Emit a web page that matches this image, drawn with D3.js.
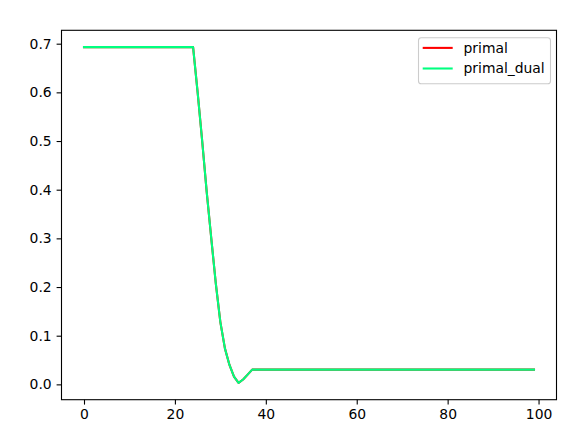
<!DOCTYPE html>
<html>
<head>
<meta charset="utf-8">
<script src="https://cdn.jsdelivr.net/npm/d3@7"></script>
<style>
  body { margin: 0; background: #fff; }
  svg { display: block; }
  text { font-family: "DejaVu Sans", sans-serif; font-size: 13.9px; fill: #000; }
</style>
</head>
<body>
<div id="chart"></div>
<script>
// x = 0..99 iterations
var steps = d3.range(0, 100);

var primal = [
  0.693, 0.693, 0.693, 0.693, 0.693, 0.693, 0.693, 0.693, 0.693, 0.693,
  0.693, 0.693, 0.693, 0.693, 0.693, 0.693, 0.693, 0.693, 0.693, 0.693,
  0.693, 0.693, 0.693, 0.693, 0.693, 0.600, 0.500, 0.395, 0.300, 0.207,
  0.128, 0.074, 0.040, 0.016, 0.003, 0.010, 0.020, 0.0303, 0.0303, 0.0303,
  0.0303, 0.0303, 0.0303, 0.0303, 0.0303, 0.0303, 0.0303, 0.0303, 0.0303, 0.0303,
  0.0303, 0.0303, 0.0303, 0.0303, 0.0303, 0.0303, 0.0303, 0.0303, 0.0303, 0.0303,
  0.0303, 0.0303, 0.0303, 0.0303, 0.0303, 0.0303, 0.0303, 0.0303, 0.0303, 0.0303,
  0.0303, 0.0303, 0.0303, 0.0303, 0.0303, 0.0303, 0.0303, 0.0303, 0.0303, 0.0303,
  0.0303, 0.0303, 0.0303, 0.0303, 0.0303, 0.0303, 0.0303, 0.0303, 0.0303, 0.0303,
  0.0303, 0.0303, 0.0303, 0.0303, 0.0303, 0.0303, 0.0303, 0.0303, 0.0303, 0.0303
];

var primalDual = [
  0.693, 0.693, 0.693, 0.693, 0.693, 0.693, 0.693, 0.693, 0.693, 0.693,
  0.693, 0.693, 0.693, 0.693, 0.693, 0.693, 0.693, 0.693, 0.693, 0.693,
  0.693, 0.693, 0.693, 0.693, 0.693, 0.600, 0.500, 0.395, 0.300, 0.207,
  0.128, 0.074, 0.040, 0.016, 0.003, 0.010, 0.020, 0.0303, 0.0303, 0.0303,
  0.0303, 0.0303, 0.0303, 0.0303, 0.0303, 0.0303, 0.0303, 0.0303, 0.0303, 0.0303,
  0.0303, 0.0303, 0.0303, 0.0303, 0.0303, 0.0303, 0.0303, 0.0303, 0.0303, 0.0303,
  0.0303, 0.0303, 0.0303, 0.0303, 0.0303, 0.0303, 0.0303, 0.0303, 0.0303, 0.0303,
  0.0303, 0.0303, 0.0303, 0.0303, 0.0303, 0.0303, 0.0303, 0.0303, 0.0303, 0.0303,
  0.0303, 0.0303, 0.0303, 0.0303, 0.0303, 0.0303, 0.0303, 0.0303, 0.0303, 0.0303,
  0.0303, 0.0303, 0.0303, 0.0303, 0.0303, 0.0303, 0.0303, 0.0303, 0.0303, 0.0303
];

var seriesNames = ["primal", "primal_dual"];
var seriesColors = ["#ff0000", "#00ff7f"];
var xTicks = [0, 20, 40, 60, 80, 100];
var yTicks = [0.0, 0.1, 0.2, 0.3, 0.4, 0.5, 0.6, 0.7];

var width = 585, height = 434;
var plotLeft = 61.5, plotRight = 556.5, plotTop = 30.3, plotBottom = 399.7;

var svg = d3.select("#chart").append("svg")
  .attr("width", width)
  .attr("height", height);

// matplotlib style 5% margins
var xMin = 0, xMax = 99;
var xPad = (xMax - xMin) * 0.05;
var yMin = d3.min(primal.concat(primalDual)), yMax = d3.max(primal.concat(primalDual));
var yPad = (yMax - yMin) * 0.05;

var xScale = d3.scaleLinear()
  .domain([xMin - xPad, xMax + xPad])
  .range([plotLeft, plotRight]);

var yScale = d3.scaleLinear()
  .domain([yMin - yPad, yMax + yPad])
  .range([plotBottom, plotTop]);

var xAxis = d3.axisBottom(xScale)
  .tickValues(xTicks)
  .tickFormat(d3.format("d"))
  .tickSize(4.9)
  .tickPadding(4.9);

var yAxis = d3.axisLeft(yScale)
  .tickValues(yTicks)
  .tickFormat(d3.format(".1f"))
  .tickSize(4.9)
  .tickPadding(4.9);

var gx = svg.append("g")
  .attr("transform", "translate(0," + plotBottom + ")")
  .call(xAxis);
gx.select(".domain").remove();
gx.selectAll("line").attr("stroke", "#000").attr("stroke-width", 1.1);
gx.selectAll("text").attr("font-size", null).attr("font-family", null);

var gy = svg.append("g")
  .attr("transform", "translate(" + plotLeft + ",0)")
  .call(yAxis);
gy.select(".domain").remove();
gy.selectAll("line").attr("stroke", "#000").attr("stroke-width", 1.1);
gy.selectAll("text").attr("font-size", null).attr("font-family", null);

var line = d3.line()
  .x(function(d, i) { return xScale(steps[i]); })
  .y(function(d) { return yScale(d); });

var allSeries = [primal, primalDual];
svg.selectAll(".series")
  .data(allSeries)
  .enter().append("path")
  .attr("class", "series")
  .attr("d", line)
  .attr("fill", "none")
  .attr("stroke", function(d, i) { return seriesColors[i]; })
  .attr("stroke-width", 2.08)
  .attr("stroke-linejoin", "round")
  .attr("stroke-linecap", "square");

// axes frame
svg.append("rect")
  .attr("x", plotLeft)
  .attr("y", plotTop)
  .attr("width", plotRight - plotLeft)
  .attr("height", plotBottom - plotTop)
  .attr("fill", "none")
  .attr("stroke", "#000")
  .attr("stroke-width", 1.1);

// legend
var legend = svg.append("g");
legend.append("rect")
  .attr("x", 418.5)
  .attr("y", 37.7)
  .attr("width", 132)
  .attr("height", 46)
  .attr("rx", 2.8)
  .attr("fill", "#fff")
  .attr("fill-opacity", 0.8)
  .attr("stroke", "#cccccc")
  .attr("stroke-width", 1.1);

seriesNames.forEach(function(name, i) {
  var ly = 47.9 + i * 20.6;
  legend.append("line")
    .attr("x1", 422.7).attr("x2", 452.7)
    .attr("y1", ly).attr("y2", ly)
    .attr("stroke", seriesColors[i])
    .attr("stroke-width", 2.08);
  legend.append("text")
    .attr("x", 463.5)
    .attr("y", ly)
    .attr("dy", "0.35em")
    .text(name);
});
</script>
</body>
</html>
